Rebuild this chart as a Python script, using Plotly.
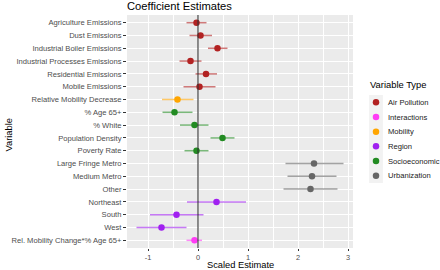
import plotly.graph_objects as go

variables = ["Agriculture Emissions", "Dust Emissions", "Industrial Boiler Emissions",
             "Industrial Processes Emissions", "Residential Emissions", "Mobile Emissions",
             "Relative Mobility Decrease", "% Age 65+", "% White", "Population Density",
             "Poverty Rate", "Large Fringe Metro", "Medium Metro", "Other", "Northeast",
             "South", "West", "Rel. Mobility Change*% Age 65+"]
var_types = ["Air Pollution"] * 6 + ["Mobility"] + ["Socioeconomic"] * 4 + ["Urbanization"] * 3 \
            + ["Region"] * 3 + ["Interactions"]
estimates = [-0.03, 0.05, 0.39, -0.15, 0.16, 0.03, -0.41, -0.47, -0.07, 0.49, -0.03,
             2.32, 2.28, 2.25, 0.37, -0.43, -0.73, -0.07]
ci_low = [-0.23, -0.17, 0.20, -0.37, -0.05, -0.29, -0.72, -0.71, -0.36, 0.25, -0.27,
          1.75, 1.79, 1.71, -0.22, -0.96, -1.23, -0.23]
ci_high = [0.17, 0.28, 0.59, 0.07, 0.38, 0.35, -0.09, -0.11, 0.21, 0.73, 0.21,
           2.91, 2.77, 2.79, 0.96, 0.11, -0.23, 0.08]

type_order = ["Air Pollution", "Interactions", "Mobility", "Region", "Socioeconomic", "Urbanization"]
type_colors = {"Air Pollution": (178, 34, 34), "Interactions": (255, 60, 245),
               "Mobility": (255, 165, 0), "Region": (160, 32, 240),
               "Socioeconomic": (34, 139, 34), "Urbanization": (102, 102, 102)}

FONT = "Liberation Sans, Arial, Helvetica, sans-serif"
W, H = 440, 270
ML, MR, MT, MB = 127, 0, 15, 22
PW = W - ML - MR
PH = H - MT - MB
main_right = 226 / PW


def px_x(p):
    return (p - ML) / PW


def px_y(p):
    return (H - MB - p) / PH


fig = go.Figure()

for t in type_order:
    idx = [i for i, vt in enumerate(var_types) if vt == t]
    r, g, b = type_colors[t]
    fig.add_trace(go.Scatter(
        x=[estimates[i] for i in idx],
        y=[variables[i] for i in idx],
        mode="markers",
        name=t,
        showlegend=False,
        marker=dict(color=f"rgb({r},{g},{b})", size=6.5),
        error_x=dict(type="data", symmetric=False,
                     array=[ci_high[i] - estimates[i] for i in idx],
                     arrayminus=[estimates[i] - ci_low[i] for i in idx],
                     color=f"rgba({r},{g},{b},0.6)", thickness=1.5, width=0),
        xaxis="x", yaxis="y",
    ))

# legend drawn as a small subplot (keys: point + vertical line, like a pointrange key)
for t in type_order:
    r, g, b = type_colors[t]
    fig.add_trace(go.Scatter(
        x=[0], y=[t], mode="markers", showlegend=False, hoverinfo="skip",
        marker=dict(color=f"rgb({r},{g},{b})", size=6.5),
        error_y=dict(type="constant", value=0.42, color=f"rgba({r},{g},{b},0.6)",
                     thickness=1.3, width=0),
        xaxis="x2", yaxis="y2",
    ))

for k, t in enumerate(type_order):
    fig.add_annotation(text=t, xref="paper", yref="y2", x=px_x(385.5), y=k,
                       xanchor="left", yanchor="middle", showarrow=False,
                       font=dict(size=7.6, color="#222222", family=FONT))

fig.add_vline(x=0, line=dict(color="#333333", width=1.1), layer="above")

fig.add_shape(type="rect", xref="x2 domain", yref="y2 domain", x0=0, x1=1, y0=0, y1=1,
              fillcolor="#F2F2F2", line=dict(width=0), layer="below")

fig.add_annotation(text="Variable Type", xref="paper", yref="paper",
                   x=px_x(367.5), y=px_y(85), xanchor="left", yanchor="middle",
                   showarrow=False, font=dict(size=9.4, color="black", family=FONT))
fig.add_annotation(text="Scaled Estimate", xref="paper", yref="paper",
                   x=px_x(240), y=px_y(265), xanchor="center", yanchor="middle",
                   showarrow=False, font=dict(size=9.3, color="black", family=FONT))
fig.add_annotation(text="Variable", xref="paper", yref="paper", textangle=-90,
                   x=px_x(8.5), y=px_y(135), xanchor="center", yanchor="middle",
                   showarrow=False, font=dict(size=9.3, color="black", family=FONT))

fig.update_layout(
    template="none",
    width=W, height=H,
    margin=dict(l=ML, r=MR, t=MT, b=MB, pad=0, autoexpand=False),
    paper_bgcolor="white", plot_bgcolor="#EBEBEB",
    font=dict(family=FONT, color="#4D4D4D", size=7.6),
    title=dict(text="Coefficient Estimates", x=ML / W, xanchor="left", y=1 - 6.5 / H, yanchor="middle",
               font=dict(size=11.2, color="black")),
    showlegend=False,
    xaxis=dict(domain=[0, main_right], range=[-1.42, 3.1], tickvals=[-1, 0, 1, 2, 3],
               ticktext=["-1", "0", "1", "2", "3"], automargin=False,
               showgrid=True, gridcolor="white", gridwidth=1, zeroline=False, showline=False,
               ticks="outside", ticklen=2, tickcolor="#333333",
               tickfont=dict(size=7.4, color="#4D4D4D"),
               minor=dict(showgrid=True, gridcolor="white", gridwidth=0.5, dtick=0.5, tick0=0.5)),
    yaxis=dict(domain=[0, 1], categoryorder="array", categoryarray=variables, autorange=False,
               range=[len(variables) - 0.4, -0.6], automargin=False,
               showgrid=True, gridcolor="white", gridwidth=1, zeroline=False, showline=False,
               ticks="outside", ticklen=3, tickcolor="#333333",
               tickfont=dict(size=7.6, color="#4D4D4D")),
    xaxis2=dict(domain=[px_x(369.5), px_x(382.5)], range=[-1, 1], visible=False, anchor="y2"),
    yaxis2=dict(domain=[px_y(183), px_y(95)], categoryorder="array", categoryarray=type_order,
                range=[len(type_order) - 0.5, -0.5], autorange=False, visible=False, anchor="x2"),
)

fig.write_html("out.html", config={"displayModeBar": False},
               post_script="document.body.style.margin='0';document.body.style.padding='0';")
